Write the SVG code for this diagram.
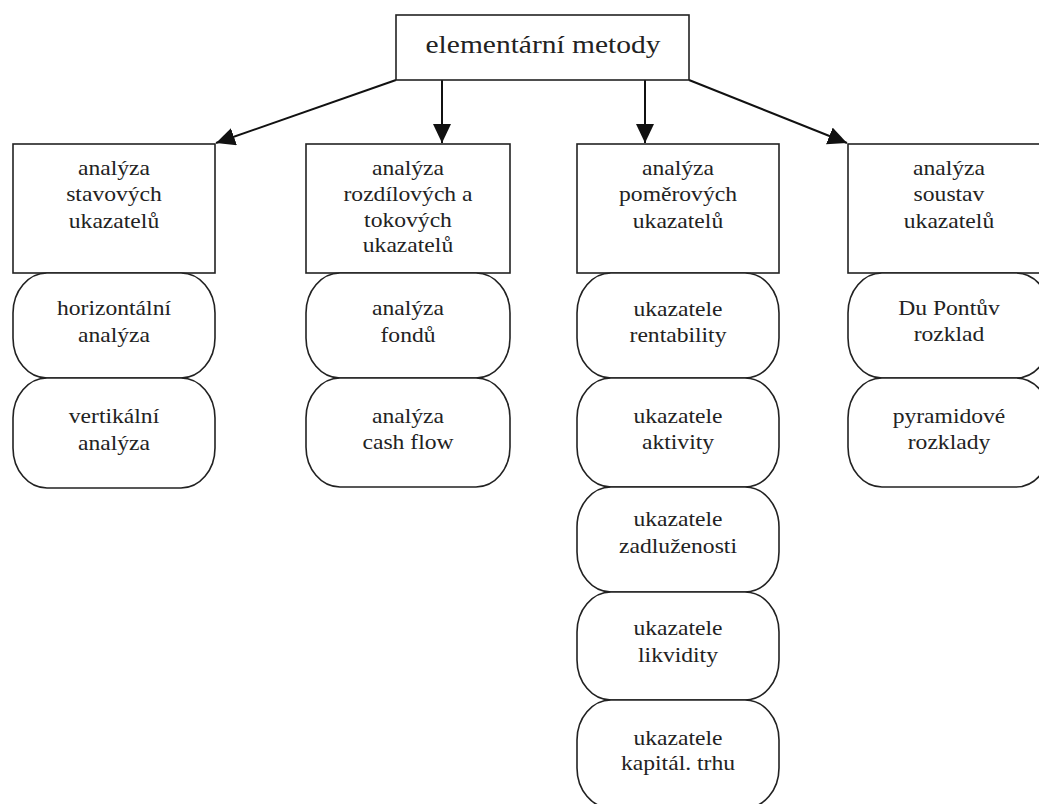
<svg xmlns="http://www.w3.org/2000/svg" width="1039" height="804" viewBox="0 0 1039 804">
<defs>
<style>
.box{fill:#fff;stroke:#222;stroke-width:1.6}
.pill{fill:#fff;stroke:#222;stroke-width:1.6}
.t{font-family:"Liberation Serif","Times New Roman",serif;font-size:20px;fill:#222;text-anchor:middle}
.tt{font-family:"Liberation Serif","Times New Roman",serif;font-size:25px;fill:#222;text-anchor:middle}
.edge{stroke:#111;stroke-width:2;fill:none;marker-end:url(#arr)}
</style>
<marker id="arr" markerUnits="userSpaceOnUse" markerWidth="20" markerHeight="19" refX="19" refY="9" orient="auto">
<path d="M0,0 L19,9 L0,18 z" fill="#111"/>
</marker>
</defs>
<rect width="1039" height="804" fill="#fff"/>

<g id="connectors">
<line class="edge" x1="396" y1="80" x2="216" y2="143"/>
<line class="edge" x1="442" y1="80" x2="442" y2="143"/>
<line class="edge" x1="645" y1="80" x2="645" y2="143"/>
<line class="edge" x1="689" y1="80" x2="847" y2="143"/>
</g>

<g id="root">
<rect class="box" x="396" y="15" width="293" height="65"/>
<text class="tt" transform="translate(543 53) scale(1.18 1)">elementární metody</text>
</g>

<g id="col1">
<rect class="box" x="13" y="144" width="202" height="129"/>
<text class="t" transform="translate(114 175) scale(1.18 1)"><tspan x="0" y="0">analýza</tspan><tspan x="0" y="26.5">stavových</tspan><tspan x="0" y="53">ukazatelů</tspan></text>
</g>
<g id="col1-p1">
<rect class="pill" x="13" y="273" width="202" height="105" rx="34" ry="40"/>
<text class="t" transform="translate(114 315) scale(1.18 1)"><tspan x="0" y="0">horizontální</tspan><tspan x="0" y="27">analýza</tspan></text>
</g>
<g id="col1-p2">
<rect class="pill" x="13" y="378" width="202" height="110" rx="34" ry="40"/>
<text class="t" transform="translate(114 423) scale(1.18 1)"><tspan x="0" y="0">vertikální</tspan><tspan x="0" y="27">analýza</tspan></text>
</g>

<g id="col2">
<rect class="box" x="306" y="144" width="204" height="129"/>
<text class="t" transform="translate(408 175) scale(1.18 1)"><tspan x="0" y="0">analýza</tspan><tspan x="0" y="26">rozdílových a</tspan><tspan x="0" y="52">tokových</tspan><tspan x="0" y="77">ukazatelů</tspan></text>
</g>
<g id="col2-p1">
<rect class="pill" x="306" y="273" width="204" height="105" rx="34" ry="40"/>
<text class="t" transform="translate(408 315) scale(1.18 1)"><tspan x="0" y="0">analýza</tspan><tspan x="0" y="27">fondů</tspan></text>
</g>
<g id="col2-p2">
<rect class="pill" x="306" y="378" width="204" height="109" rx="34" ry="40"/>
<text class="t" transform="translate(408 423) scale(1.18 1)"><tspan x="0" y="0">analýza</tspan><tspan x="0" y="26">cash flow</tspan></text>
</g>

<g id="col3">
<rect class="box" x="577" y="144" width="202" height="129"/>
<text class="t" transform="translate(678 175) scale(1.18 1)"><tspan x="0" y="0">analýza</tspan><tspan x="0" y="26.5">poměrových</tspan><tspan x="0" y="53">ukazatelů</tspan></text>
</g>
<g id="col3-p1">
<rect class="pill" x="577" y="273" width="202" height="105" rx="34" ry="40"/>
<text class="t" transform="translate(678 316) scale(1.18 1)"><tspan x="0" y="0">ukazatele</tspan><tspan x="0" y="26">rentability</tspan></text>
</g>
<g id="col3-p2">
<rect class="pill" x="577" y="378" width="202" height="109" rx="34" ry="40"/>
<text class="t" transform="translate(678 423) scale(1.18 1)"><tspan x="0" y="0">ukazatele</tspan><tspan x="0" y="26">aktivity</tspan></text>
</g>
<g id="col3-p3">
<rect class="pill" x="577" y="487" width="202" height="105" rx="34" ry="40"/>
<text class="t" transform="translate(678 526) scale(1.18 1)"><tspan x="0" y="0">ukazatele</tspan><tspan x="0" y="27">zadluženosti</tspan></text>
</g>
<g id="col3-p4">
<rect class="pill" x="577" y="592" width="202" height="108" rx="34" ry="40"/>
<text class="t" transform="translate(678 635) scale(1.18 1)"><tspan x="0" y="0">ukazatele</tspan><tspan x="0" y="27">likvidity</tspan></text>
</g>
<g id="col3-p5">
<rect class="pill" x="577" y="700" width="202" height="108" rx="34" ry="40"/>
<text class="t" transform="translate(678 745) scale(1.18 1)"><tspan x="0" y="0">ukazatele</tspan><tspan x="0" y="25">kapitál. trhu</tspan></text>
</g>

<g id="col4">
<rect class="box" x="848" y="144" width="202" height="129"/>
<text class="t" transform="translate(949 175) scale(1.18 1)"><tspan x="0" y="0">analýza</tspan><tspan x="0" y="26.5">soustav</tspan><tspan x="0" y="53">ukazatelů</tspan></text>
</g>
<g id="col4-p1">
<rect class="pill" x="848" y="273" width="202" height="105" rx="34" ry="40"/>
<text class="t" transform="translate(949 315) scale(1.18 1)"><tspan x="0" y="0">Du Pontův</tspan><tspan x="0" y="26">rozklad</tspan></text>
</g>
<g id="col4-p2">
<rect class="pill" x="848" y="378" width="202" height="109" rx="34" ry="40"/>
<text class="t" transform="translate(949 423) scale(1.18 1)"><tspan x="0" y="0">pyramidové</tspan><tspan x="0" y="26">rozklady</tspan></text>
</g>
</svg>
